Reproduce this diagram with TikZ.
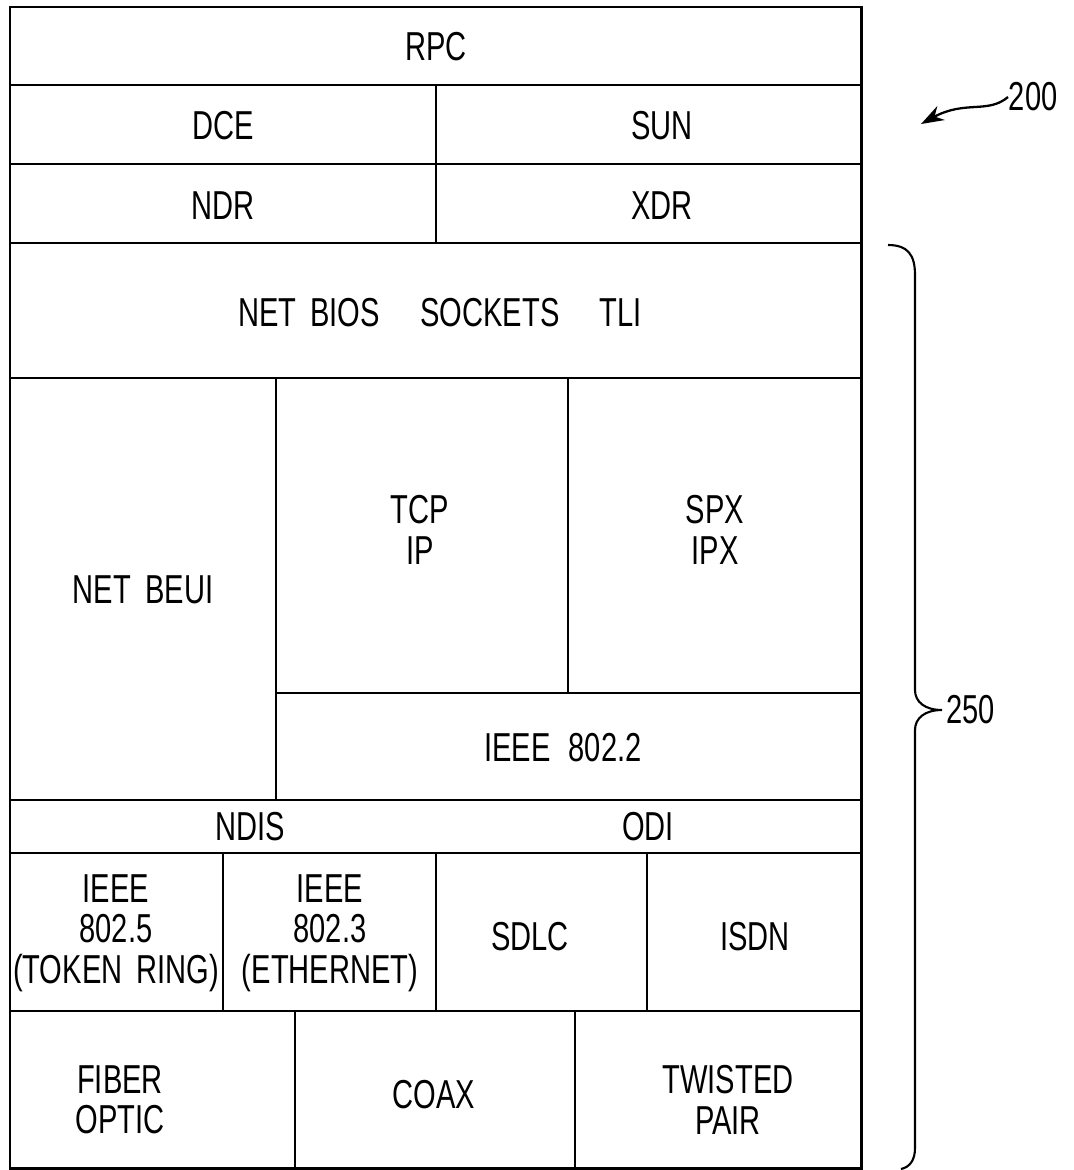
\documentclass[tikz,border=0pt]{standalone}
\usepackage{fontspec}
\setmainfont{Liberation Sans}[FakeStretch=0.72]
\usepackage{tikz}
\usetikzlibrary{arrows.meta, positioning}

\begin{document}
\begin{tikzpicture}[x=0.02cm, y=-0.02cm, line width=1.1pt, font=\fontsize{23}{23}\selectfont]
		\tikzstyle{layer}=[align=center, inner sep=0pt]
		\tikzstyle{frame}=[line width=1.7pt]
		\tikzstyle{refnum}=[inner sep=0pt, anchor=west]

		\useasboundingbox (0,0) rectangle (1074,1170);

		% frame and the lines between the layers
		\draw[frame] (10,7) rectangle (861,1168);
		\foreach \y in {85,164,243,378,800,853,1011}
			\draw (10,\y) -- (861,\y);
		\draw (436,85) -- (436,243);
		\draw (276,378) -- (276,800);
		\draw (568,378) -- (568,693);
		\draw (276,693) -- (861,693);
		\foreach \x in {223,436,647}
			\draw (\x,853) -- (\x,1011);
		\foreach \x in {295,575}
			\draw (\x,1011) -- (\x,1168);

		% layer names
		\node[layer] (RPC) at (436,47) {RPC};
		\node[layer] (DCE) at (223,126) {DCE};
		\node[layer] (SUN) at (662,126) {SUN};
		\node[layer] (NDR) at (223,206) {NDR};
		\node[layer] (XDR) at (662,206) {XDR};
		\node[layer] (API) at (440,313) {NET\hspace{0.35em}BIOS\hspace{1em}SOCKETS\hspace{1em}TLI};
		\node[layer] (BEUI) at (143,590) {NET\hspace{0.35em}BEUI};
		\node[layer] (TCP) at (420,530) {TCP\\IP};
		\node[layer] (SPX) at (715,530) {SPX\\IPX};
		\node[layer] (LLC) at (563,748) {IEEE\hspace{0.45em}802.2};
		\node[layer] (NDIS) at (250,827) {NDIS};
		\node[layer] (ODI) at (648,827) {ODI};
		\node[layer] (TR) at (116,933) {IEEE\\802.5\\(TOKEN\hspace{0.35em}RING)};
		\node[layer] (ETH) at (330,933) {IEEE\\802.3\\(ETHERNET)};
		\node[layer] (SDLC) at (530,937) {SDLC};
		\node[layer] (ISDN) at (755,937) {ISDN};
		\node[layer] (FIB) at (120,1100) {FIBER\\OPTIC};
		\node[layer] (COAX) at (434,1095) {COAX};
		\node[layer] (TP) at (728,1100) {TWISTED\\PAIR};

		% reference numerals
		\node[refnum] (N200) at (1008,97) {200};
		\coordinate (A200) at (921,124);
		\draw[line width=1.3pt, -{Stealth[length=13pt, width=9pt]}]
			(N200.west) .. controls (988,114) and (965,100) .. (A200);

		\coordinate (tip) at (942,710);
		\draw[line width=1.2pt]
			(888,245) .. controls (908,245) and (915,255) .. (915,275) -- (915,690)
			.. controls (915,702) and (925,710) .. (tip)
			.. controls (925,710) and (915,718) .. (915,730) -- (915,1148)
			.. controls (915,1160) and (910,1167) .. (901,1169);
		\node[refnum, right=2pt of tip] (N250) {250};
	\end{tikzpicture}
\end{document}
